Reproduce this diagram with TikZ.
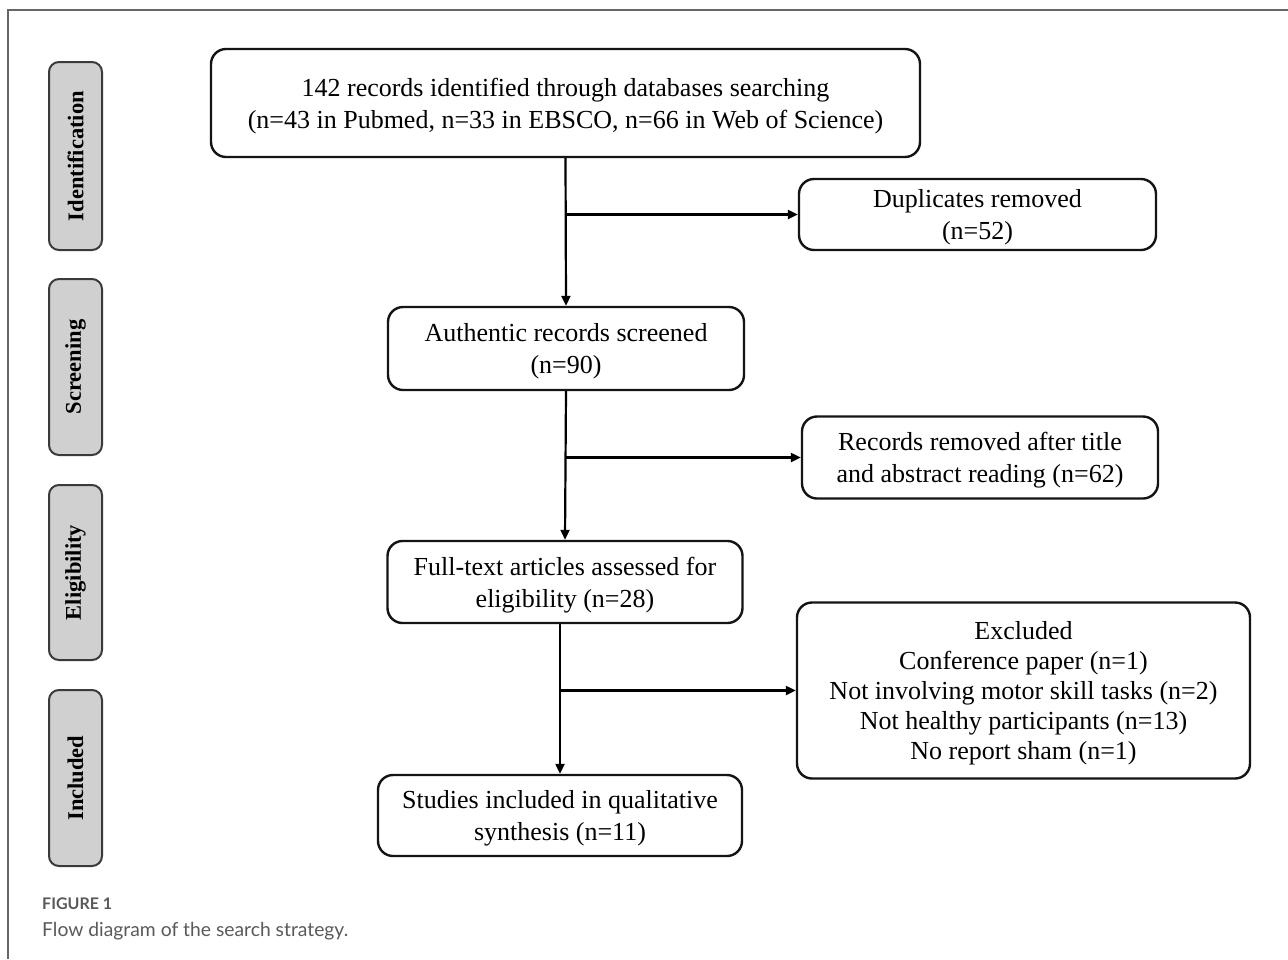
\documentclass[tikz,border=0pt]{standalone}
\usepackage{fontspec}
\setmainfont{Liberation Serif}
\newfontfamily\capfont{Lato}
\usetikzlibrary{arrows.meta}
\definecolor{framegray}{HTML}{666666}
\definecolor{phasefill}{HTML}{D0D0D0}
\definecolor{phasedraw}{HTML}{3A3A3A}
\definecolor{capgray}{HTML}{5A5A5A}
\tikzset{
  flowbox/.style={draw=black!92, line width=2.4pt, rounded corners=15pt, align=center, inner sep=0pt,
    font=\fontsize{26}{32}\selectfont, text depth=-3pt},
  listbox/.style={draw=black!92, line width=2.4pt, rounded corners=15pt, align=center, inner sep=0pt,
    font=\fontsize{26}{30}\selectfont, text depth=-1pt},
  phasebox/.style={draw=phasedraw, fill=phasefill, line width=2pt, rounded corners=10pt, inner sep=0pt,
    minimum width=53pt},
  phaselabel/.style={rotate=90, font=\bfseries\fontsize{22.5}{24}\selectfont},
  conn/.style={line width=2.2pt, draw=black},
  arr/.style={conn, -{Triangle[length=10pt,width=9pt]}},
}
\begin{document}
\begin{tikzpicture}[x=1pt,y=-1pt]
\useasboundingbox (0,0) rectangle (1288,959);
\fill[white] (0,0) rectangle (1288,959);
% frame
\draw[framegray, line width=1.6pt] (8,959) -- (8,10) -- (1288,10);

% phase labels
\node[phasebox, minimum height=188pt] (pid) at (75.5,156) {};
\node[phaselabel] (tid) at (pid.center) {Identification};
\node[phasebox, minimum height=176pt] (psc) at (75.5,367) {};
\node[phaselabel] (tsc) at (psc.center) {Screening};
\node[phasebox, minimum height=175pt] (pel) at (75.5,572.5) {};
\node[phaselabel] (tel) at (pel.center) {Eligibility};
\node[phasebox, minimum height=176pt] (pin) at (75.5,778) {};
\node[phaselabel] (tin) at (pin.center) {Included};

% main boxes
\node[flowbox, minimum width=709pt, minimum height=108pt] (b1) at (565.5,103)
  {142 records identified through databases searching\\(n=43 in Pubmed, n=33 in EBSCO, n=66 in Web of Science)};
\node[flowbox, minimum width=357pt, minimum height=71pt] (dup) at (977.5,214.5)
  {Duplicates removed\\(n=52)};
\node[flowbox, minimum width=356pt, minimum height=83pt] (b2) at (566,348.5)
  {Authentic records screened\\(n=90)};
\node[flowbox, minimum width=356pt, minimum height=82pt] (rem) at (980,457.5)
  {Records removed after title\\and abstract reading (n=62)};
\node[flowbox, minimum width=355pt, minimum height=82pt] (b3) at (565,582)
  {Full-text articles assessed for\\eligibility (n=28)};
\node[listbox, minimum width=453pt, minimum height=176pt] (exc) at (1023.5,690.5)
  {Excluded\\Conference paper (n=1)\\Not involving motor skill tasks (n=2)\\Not healthy participants (n=13)\\No report sham (n=1)};
\node[flowbox, minimum width=364pt, minimum height=81pt] (b4) at (560,815.5)
  {Studies included in qualitative\\synthesis (n=11)};

% connectors
\draw[arr] (b1.south) -- (b2.north);
\draw[arr] (b1.south |- dup.west) -- (dup.west);
\draw[arr] (b2.south) -- (b3.north);
\draw[arr] (b2.south |- rem.west) -- (rem.west);
\draw[arr] (b4.north |- b3.south) -- (b4.north);
\draw[arr] (b4.north |- exc.west) -- (exc.west);

% caption
\node[anchor=base west, inner sep=0pt, text=capgray, font=\capfont\bfseries\fontsize{16}{18}\selectfont] (cap1) at (42,909) {FIGURE 1};
\node[anchor=base west, inner sep=0pt, text=capgray, font=\capfont\fontsize{19.3}{22}\selectfont] (cap2) at (42,936) {Flow diagram of the search strategy.};
\end{tikzpicture}
\end{document}
